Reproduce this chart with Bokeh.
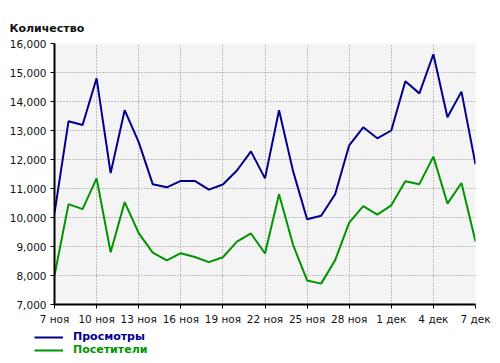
from bokeh.plotting import figure
from bokeh.layouts import column
from bokeh.models import (Range1d, FixedTicker, NumeralTickFormatter, Legend, LegendItem, Title)
from bokeh.embed import file_html
from bokeh.resources import INLINE

day_labels = ["7 ноя", "8 ноя", "9 ноя", "10 ноя", "11 ноя", "12 ноя", "13 ноя", "14 ноя",
              "15 ноя", "16 ноя", "17 ноя", "18 ноя", "19 ноя", "20 ноя", "21 ноя", "22 ноя",
              "23 ноя", "24 ноя", "25 ноя", "26 ноя", "27 ноя", "28 ноя", "29 ноя", "30 ноя",
              "1 дек", "2 дек", "3 дек", "4 дек", "5 дек", "6 дек", "7 дек"]
views = [10150, 13320, 13190, 14800, 11530, 13700, 12600, 11150, 11040, 11260, 11260,
         10960, 11140, 11620, 12280, 11350, 13700, 11600, 9940, 10060, 10800, 12490,
         13110, 12730, 13000, 14700, 14280, 15630, 13460, 14340, 11830]
visitors = [8000, 10460, 10290, 11350, 8800, 10530, 9460, 8790, 8520, 8770, 8640,
            8460, 8630, 9170, 9450, 8760, 10800, 9060, 7830, 7720, 8530, 9820,
            10390, 10100, 10420, 11250, 11150, 12100, 10480, 11190, 9170]
series_names = ["Просмотры", "Посетители"]
y_ticks = [7000, 8000, 9000, 10000, 11000, 12000, 13000, 14000, 15000, 16000]

x = list(range(len(day_labels)))
tick_pos = x[::3]

FONT = "DejaVu Sans"
BLUE = "#00008b"
GREEN = "#009400"

# main chart
p = figure(width=500, height=330, output_backend="svg", toolbar_location=None,
           x_range=Range1d(0, len(day_labels) - 1), y_range=Range1d(7000, 16000),
           min_border_left=54, min_border_right=25, min_border_top=43, min_border_bottom=26)
p.background_fill_color = "#f4f4f4"
p.border_fill_color = "white"
p.outline_line_color = None
p.frame_align = False

r1 = p.line(x, views, line_color=BLUE, line_width=2)
r2 = p.line(x, visitors, line_color=GREEN, line_width=2)

p.xaxis.ticker = FixedTicker(ticks=tick_pos)
p.xaxis.major_label_overrides = {i: day_labels[i] for i in tick_pos}
p.yaxis.ticker = FixedTicker(ticks=y_ticks)
p.yaxis.formatter = NumeralTickFormatter(format="0,0")

for ax in (p.xaxis[0], p.yaxis[0]):
    ax.axis_line_width = 2
    ax.axis_line_color = "black"
    ax.major_tick_in = 0
    ax.major_tick_out = 4
    ax.major_tick_line_color = "black"
    ax.minor_tick_line_color = None
    ax.major_label_text_font = FONT
    ax.major_label_text_font_size = "10.5px"
    ax.major_label_text_color = "#111111"
    ax.major_label_standoff = 4

for g in (p.xgrid[0], p.ygrid[0]):
    g.grid_line_color = "#8a8a8a"
    g.grid_line_dash = "1 2"
    g.grid_line_width = 1

t = Title(text="Количество", align="left", offset=-45, text_font=FONT,
          text_font_size="11px", text_font_style="bold", text_color="#111111",
          standoff=17)
p.add_layout(t, "above")

# legend strip below the chart (its ranges are far from the data, so only the legend shows)
lg = figure(width=500, height=33, output_backend="svg", toolbar_location=None,
            x_range=Range1d(1000, 1001), y_range=Range1d(1000, 1001),
            x_axis_type=None, y_axis_type=None,
            min_border=0, min_border_left=0, min_border_right=0,
            min_border_top=0, min_border_bottom=0)
lg.xgrid.visible = False
lg.ygrid.visible = False
lg.outline_line_color = None
lg.background_fill_color = "white"
lg.border_fill_color = "white"
lg.frame_align = False

d1 = lg.line(x, views, line_color=BLUE, line_width=2)
d2 = lg.line(x, visitors, line_color=GREEN, line_width=2)

def make_legend(name, rend, color, ybottom):
    return Legend(items=[LegendItem(label=name, renderers=[rend])],
                  location=(34, ybottom), label_text_color=color, label_text_font=FONT,
                  label_text_font_style="bold", label_text_font_size="11px",
                  glyph_width=29, glyph_height=12, padding=0, margin=0, spacing=0,
                  border_line_color=None, background_fill_alpha=0, label_standoff=10,
                  label_height=12)

lg.add_layout(make_legend(series_names[0], d1, BLUE, 20), "center")
lg.add_layout(make_legend(series_names[1], d2, GREEN, 7), "center")

layout = column(p, lg, spacing=0)
open("out.html", "w").write(file_html(layout, INLINE))
